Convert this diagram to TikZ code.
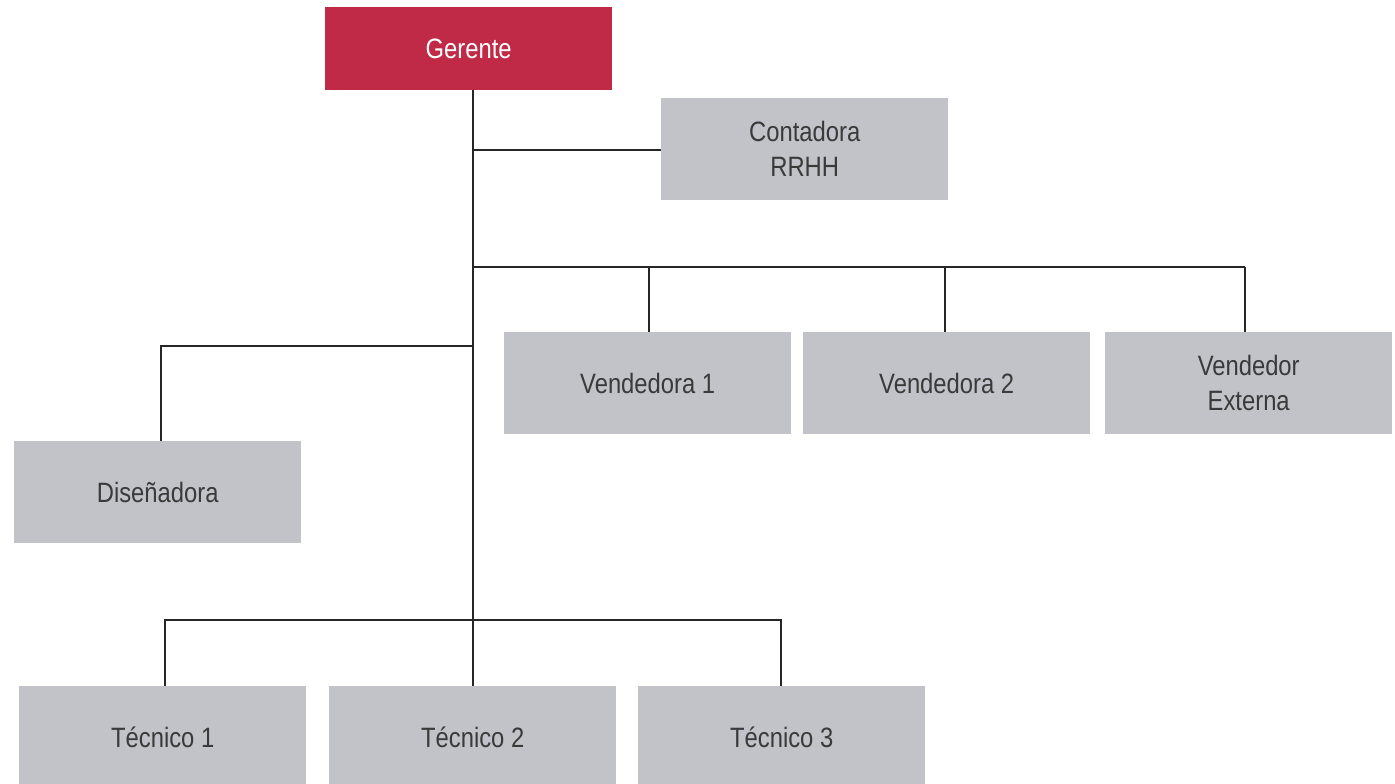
\documentclass[tikz,border=0pt]{standalone}
\usepackage{fontspec}
\setmainfont{Liberation Sans}[FakeStretch=0.85]
\definecolor{crimson}{HTML}{C02A47}
\definecolor{boxgray}{HTML}{C2C3C8}
\definecolor{txt}{HTML}{3A3A3A}
\begin{document}
\begin{tikzpicture}[x=1pt,y=-1pt,
  box/.style={fill=boxgray,draw=none,minimum width=287pt,minimum height=102pt,inner sep=0pt,
     text=txt,font=\fontsize{28}{35}\selectfont,align=center,anchor=north west},
  link/.style={draw=black!85,line width=1.4pt}]
\useasboundingbox (0,0) rectangle (1395,784);
\node[box,fill=crimson,text=white,minimum height=83pt] (ger) at (325,7) {\raisebox{-3pt}{Gerente}};
\node[box] (con) at (661,98) {Contadora\\RRHH};
\node[box] (v1) at (504,332) {\raisebox{-4pt}{Vendedora 1}};
\node[box] (v2) at (803,332) {\raisebox{-4pt}{Vendedora 2}};
\node[box] (v3) at (1105,332) {Vendedor\\Externa};
\node[box] (dis) at (14,441) {\raisebox{-4pt}{Diseñadora}};
\node[box] (t1) at (19,686) {\raisebox{-2pt}{Técnico 1}};
\node[box] (t2) at (329,686) {\raisebox{-2pt}{Técnico 2}};
\node[box] (t3) at (638,686) {\raisebox{-2pt}{Técnico 3}};
\coordinate (top) at (473,90);
\coordinate (jc) at (473,150);
\coordinate (jv) at (473,267);
\coordinate (jd) at (473,346);
\coordinate (jt) at (473,620);
\draw[link] (top) -- (jt) -- (t2.north -| jt);
\draw[link] (jc) -- (con.west |- jc);
\draw[link] (jv) -- (1245,267);
\draw[link] (649,267) -- (649,332);
\draw[link] (945,267) -- (945,332);
\draw[link] (1245,267) -- (1245,332);
\draw[link] (jd) -- (161,346) -- (161,441);
\draw[link] (165,686) -- (165,620) -- (781,620) -- (781,686);
\end{tikzpicture}
\end{document}
